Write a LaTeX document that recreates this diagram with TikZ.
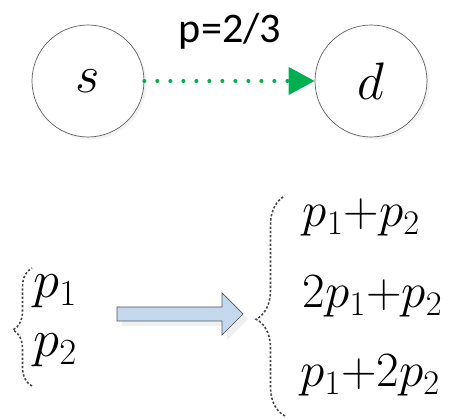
\documentclass[tikz,border=0pt]{standalone}
\usepackage{fix-cm}
\usepackage{fontspec}
\newfontfamily\labelfont{Carlito}
\usetikzlibrary{arrows.meta,decorations.pathreplacing,shadows}

\definecolor{linkgreen}{HTML}{00B050}
\definecolor{arrowblue}{HTML}{C5D9EE}

\tikzset{
  vertex/.style={circle, draw=gray!75!black, thin, fill=white, minimum size=2.24cm,
    drop shadow={shadow xshift=0.05cm, shadow yshift=-0.05cm, fill=gray!20},
    font=\fontsize{30}{36}\selectfont},
  link/.style={linkgreen, line width=2.3pt, line cap=round, dash pattern=on 0pt off 7.4pt,
    -{Triangle[length=0.52cm,width=0.54cm]}},
  curly/.style={decorate, gray!55!black, line width=0.9pt, dash pattern=on 1.3pt off 1.1pt},
  term/.style={anchor=base west, inner sep=0pt, font=\fontsize{28}{34}\selectfont}
}

\begin{document}
\begin{tikzpicture}
  \useasboundingbox (0,0) rectangle (9.1,8.38);
  % source and destination
  \node[vertex] (s) at (1.76,6.76) {$s$};
  \node[vertex] (d) at (7.42,6.76) {$d$};
  \draw[link] (s) -- (d);
  \node[anchor=base, inner sep=0pt, font=\labelfont\fontsize{24}{28}\selectfont] (plabel) at (4.6,7.52) {p=2/3};
  % left set
  \node[term, font=\fontsize{30}{36}\selectfont] (q1) at (0.66,2.42) {$p_1$};
  \node[term, font=\fontsize{30}{36}\selectfont] (q2) at (0.66,1.24) {$p_2$};
  \draw[curly, decoration={brace, amplitude=0.38cm, aspect=0.475}] (0.64,0.66) -- (0.64,3.02);
  % block arrow
  \draw[gray!65!black, thin, fill=arrowblue,
    drop shadow={shadow xshift=0.1cm, shadow yshift=-0.1cm, fill=gray!25}]
    (2.34,2.24) -- (4.44,2.24) -- (4.44,2.52) -- (4.86,2.1) -- (4.44,1.68)
    -- (4.44,1.96) -- (2.34,1.96) -- cycle;
  % right set
  \node[term] (sum1) at (6.05,3.84) {$p_1{+}p_2$};
  \node[term] (sum2) at (6.05,2.22) {$2p_1{+}p_2$};
  \node[term] (sum3) at (6.0,0.64) {$p_1{+}2p_2$};
  \draw[curly, decoration={brace, amplitude=0.58cm, aspect=0.44}] (5.7,0.06) -- (5.7,4.46);
\end{tikzpicture}
\end{document}
